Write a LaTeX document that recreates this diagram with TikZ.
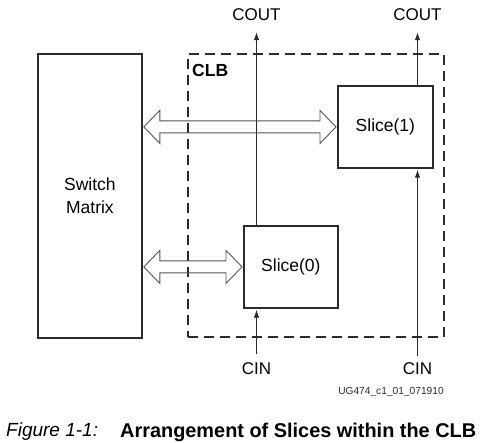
\documentclass[tikz,border=0pt]{standalone}
\usepackage{fontspec}
\setmainfont{Liberation Sans}
\usetikzlibrary{arrows.meta,calc}
\definecolor{ink}{HTML}{2A2A2A}
\definecolor{busline}{HTML}{555555}
\begin{document}
\begin{tikzpicture}[x=1pt,y=-1pt,
  box/.style={draw=ink, line width=1.8pt, inner sep=0pt, align=center,
              font=\fontsize{17.5}{23}\selectfont},
  clbbox/.style={draw=ink, line width=1.8pt, dash pattern=on 10pt off 6pt, inner sep=0pt},
  lbl/.style={font=\fontsize{17}{18}\selectfont, inner sep=0pt, text=black},
  sig/.style={draw=ink, line width=0.9pt, -{Latex[length=8pt,width=5.5pt]}},
  bus/.style={draw=busline, line width=0.9pt, line join=miter},
]
\useasboundingbox (0,0) rectangle (489,443);

% boxes
\node[box, minimum width=104pt, minimum height=284pt, anchor=north west] (sm) at (37,53) {Switch\\Matrix};
\node[clbbox, minimum width=256pt, minimum height=283pt, anchor=north west] (clb) at (187,53) {};
\node[anchor=west, inner sep=0pt, font=\fontsize{17.5}{18}\selectfont\bfseries] (clbl) at (192,70) {CLB};
\node[box, minimum width=95pt, minimum height=82pt, anchor=north west] (s1) at (337,85) {Slice(1)};
\node[box, minimum width=94pt, minimum height=82pt, anchor=north west] (s0) at (243,225) {Slice(0)};

% labels
\node[lbl] (cout0) at (256.5,15) {COUT};
\node[lbl] (cout1) at (417.5,15) {COUT};
\node[lbl] (cin0) at (256.5,369) {CIN};
\node[lbl] (cin1) at (417.5,369) {CIN};
\coordinate (t0) at ($(cout0.south)+(0,11)$);
\coordinate (t1) at ($(cout1.south)+(0,11)$);
\coordinate (b0) at ($(cin0.north)+(0,-9)$);
\coordinate (b1) at ($(cin1.north)+(0,-7)$);

% carry connectors
\draw[sig] (s0.north -| cout0) -- (t0);
\draw[sig] (s1.north -| cout1) -- (t1);
\draw[sig, shorten >=0.9pt] (b0) -- (s0.south -| cin0);
\draw[sig, shorten >=0.9pt] (b1) -- (s1.south -| cin1);

% bus arrows
\coordinate (a1) at ($(sm.east |- s1.west)+(1,0)$);
\coordinate (e1) at ($(s1.west)+(-1,0)$);
\draw[bus] (a1) -- ++(16,-16.5) -- ++(0,10.5) -- ($(e1)+(-16,-6)$) -- ++(0,-10.5)
  -- (e1) -- ++(-16,16.5) -- ++(0,-10.5) -- ($(a1)+(16,6)$) -- ++(0,10.5) -- cycle;
\coordinate (a0) at ($(sm.east |- s0.west)+(1,0)$);
\coordinate (e0) at ($(s0.west)+(-1,0)$);
\draw[bus] (a0) -- ++(16,-16.5) -- ++(0,10.5) -- ($(e0)+(-16,-6)$) -- ++(0,-10.5)
  -- (e0) -- ++(-16,16.5) -- ++(0,-10.5) -- ($(a0)+(16,6)$) -- ++(0,10.5) -- cycle;

% figure id and caption
\node[inner sep=0pt, font=\fontsize{10.2}{12}\selectfont, text=ink] (fid) at (391,392) {UG474\_c1\_01\_071910};
\node[anchor=west, inner sep=0pt, font=\fontsize{19}{22}\selectfont\itshape] (fig) at (6,432) {Figure 1-1:};
\node[anchor=west, inner sep=0pt, font=\fontsize{19.9}{22}\selectfont\bfseries] (cap) at (120,432) {Arrangement of Slices within the CLB};
\end{tikzpicture}
\end{document}
